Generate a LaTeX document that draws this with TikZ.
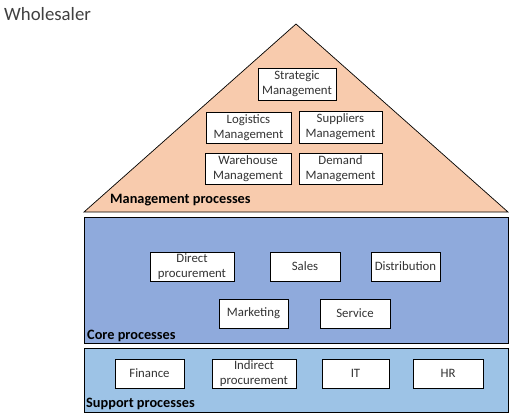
\documentclass[tikz,border=0pt]{standalone}
\usepackage{fontspec}
\setmainfont{Carlito}
\definecolor{mgmtfill}{HTML}{F8CBAD}
\definecolor{corefill}{HTML}{8FAADC}
\definecolor{suppfill}{HTML}{9DC3E6}
\tikzset{
  procbox/.style={draw=black,fill=white,line width=0.8pt,align=center,
    inner sep=0pt,font=\fontsize{12.8}{15}\selectfont,text=black!80},
  layerlabel/.style={anchor=west,inner sep=0pt,font=\fontsize{14.3}{16}\selectfont\bfseries}
}
\begin{document}
\begin{tikzpicture}[x=1pt,y=-1pt]
\useasboundingbox (0,0) rectangle (512,418);

\node[anchor=west,inner sep=0pt,font=\fontsize{18.8}{21}\selectfont,text=black!75] (title) at (4,14) {Wholesaler};

% layers
\draw[fill=mgmtfill,line width=0.7pt] (84,212) -- (296,24) -- (508,212) -- cycle;
\draw[fill=corefill,line width=0.7pt] (84,217) rectangle (508,343);
\draw[fill=suppfill,line width=0.7pt] (84,348) rectangle (508,412);

\node[layerlabel] (mgmt) at (110,200) {Management processes};
\node[layerlabel] (core) at (87,336) {Core processes};
\node[layerlabel] (supp) at (86,404) {Support processes};

% management
\node[procbox,minimum width=78pt,minimum height=32pt] (strat) at (297,84) {Strategic\\Management};
\node[procbox,minimum width=85pt,minimum height=31pt] (logi) at (248.5,127.5) {Logistics\\Management};
\node[procbox,minimum width=83pt,minimum height=32pt] (supl) at (340.5,127) {Suppliers\\Management};
\node[procbox,minimum width=86pt,minimum height=31pt] (ware) at (248,168.5) {Warehouse\\Management};
\node[procbox,minimum width=83pt,minimum height=31pt] (dmnd) at (340.5,168.5) {Demand\\Management};

% core
\node[procbox,minimum width=84pt,minimum height=29pt] (direct) at (192,266.5) {Direct\\procurement};
\node[procbox,minimum width=70pt,minimum height=29pt] (sales) at (305,266.5) {Sales};
\node[procbox,minimum width=69pt,minimum height=29pt] (distr) at (405.5,266.5) {Distribution};
\node[procbox,minimum width=69pt,minimum height=29pt] (mkt) at (253.5,313.5) {Marketing};
\node[procbox,minimum width=70pt,minimum height=29pt] (serv) at (355,313.5) {Service};

% support
\node[procbox,minimum width=69pt,minimum height=29pt] (fin) at (149.5,373.5) {Finance};
\node[procbox,minimum width=84pt,minimum height=29pt] (indir) at (254,373.5) {Indirect\\procurement};
\node[procbox,minimum width=67pt,minimum height=29pt] (it) at (355.5,373.5) {IT};
\node[procbox,minimum width=70pt,minimum height=29pt] (hr) at (448,373.5) {HR};
\end{tikzpicture}
\end{document}
